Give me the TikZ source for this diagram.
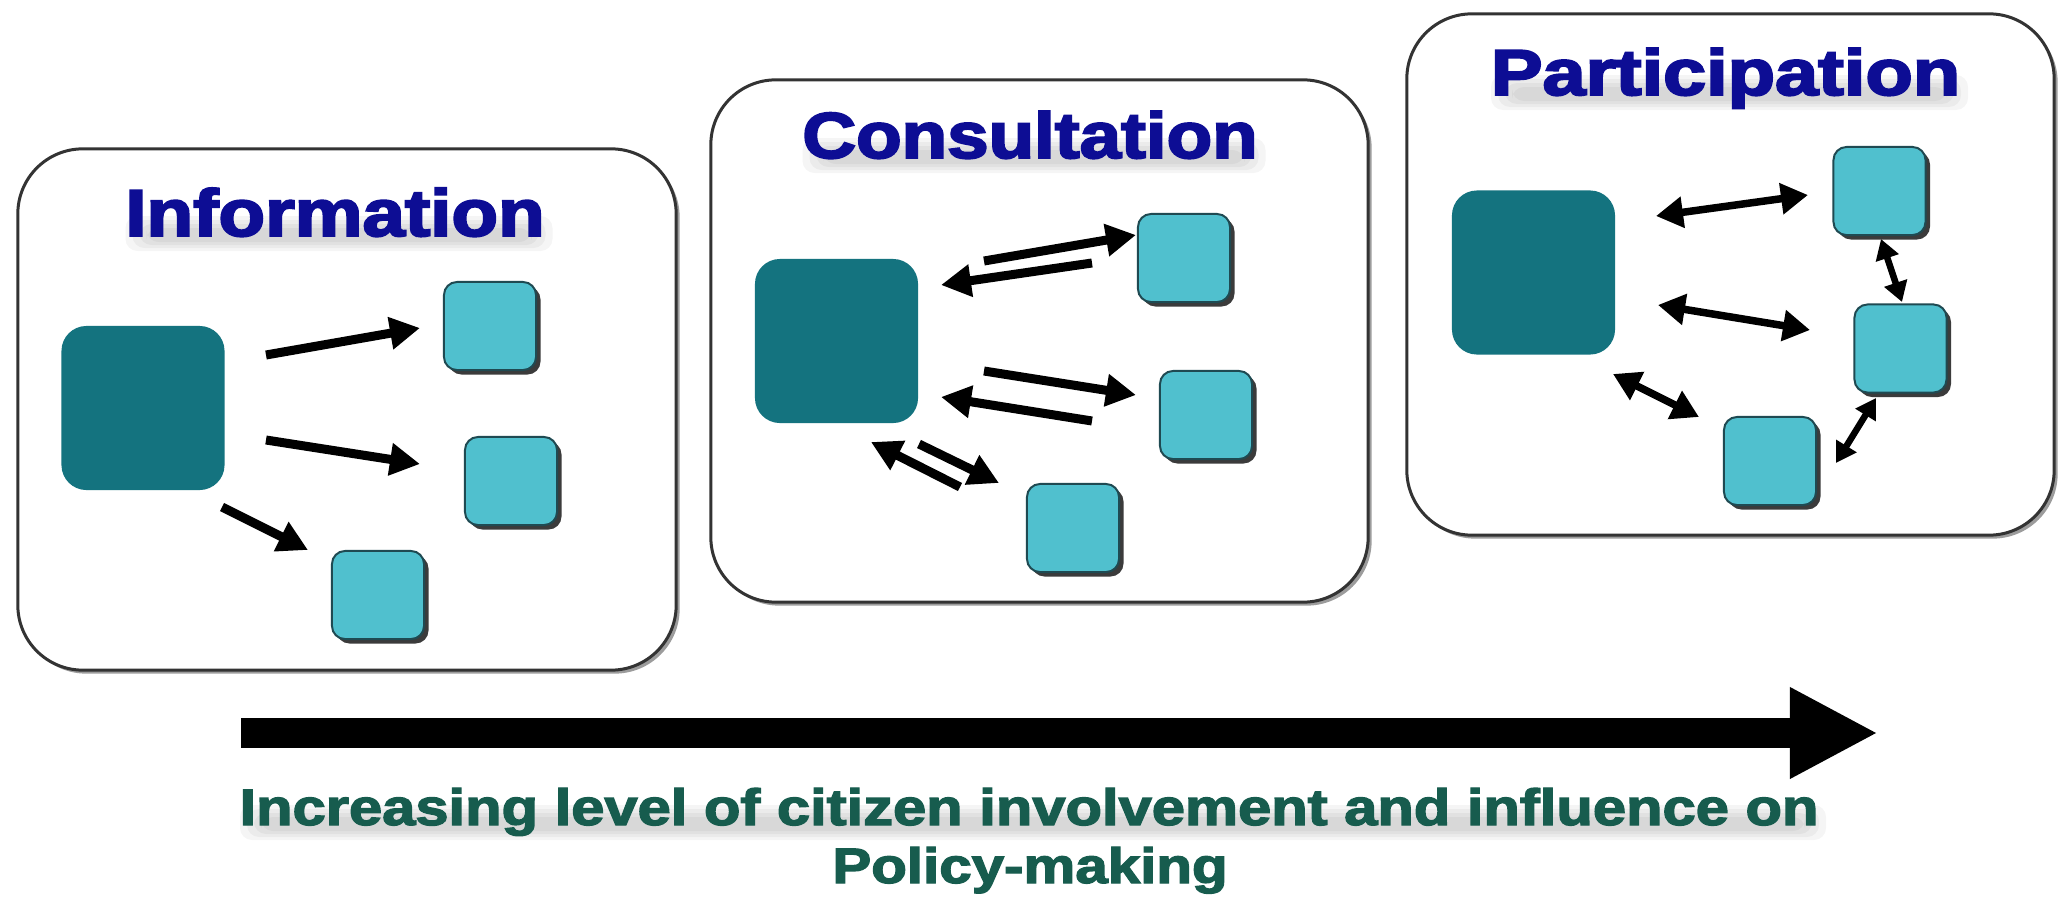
\documentclass[tikz,border=0pt]{standalone}
\usepackage{fontspec}
\setmainfont{Liberation Sans}
\newfontfamily\heavyfont[FakeBold=3]{Liberation Sans Bold}
\newfontfamily\capfont[FakeBold=2.5]{Liberation Sans Bold}
\usetikzlibrary{arrows.meta,calc,shadows}
\definecolor{darkteal}{HTML}{14737F}
\definecolor{lightcyan}{HTML}{50C0CE}
\definecolor{sqedge}{HTML}{1F4A52}
\definecolor{titleblue}{HTML}{0D0D94}
\definecolor{captiongreen}{HTML}{175C4E}
\definecolor{boxedge}{HTML}{333333}
\newcommand\softShadowBand[2]{%
  \foreach \k in {0,1,2,3}{
    \fill[black, opacity=0.04, rounded corners=0.12cm]
      ($(#1)+(-#2/2+\k*7, -20+\k*4)$) rectangle ($(#1)+(#2/2-\k*7+8, 15-\k*3)$);
  }}
\begin{document}
\begin{tikzpicture}[x=0.01cm,y=-0.01cm,
  panel/.style={draw=boxedge, line width=0.03cm, fill=white, rounded corners=0.65cm,
    drop shadow={shadow xshift=0.035cm, shadow yshift=-0.035cm, opacity=0.55, fill=black!70}},
  bigsq/.style={fill=darkteal, rounded corners=0.25cm, minimum width=1.63cm, minimum height=1.64cm, inner sep=0},
  smallsq/.style={draw=sqedge, line width=0.02cm, fill=lightcyan, rounded corners=0.13cm,
    minimum width=0.92cm, minimum height=0.88cm, inner sep=0,
    drop shadow={shadow xshift=0.045cm, shadow yshift=-0.045cm, opacity=0.9, fill=black!85}},
  arr/.style={line width=0.09cm, -{Triangle[length=0.3cm,width=0.31cm]}},
  darr/.style={line width=0.075cm, {Triangle[length=0.27cm,width=0.3cm]}-{Triangle[length=0.27cm,width=0.3cm]}},
  sdarr/.style={line width=0.065cm, {Triangle[length=0.2cm,width=0.23cm]}-{Triangle[length=0.2cm,width=0.23cm]}},
  ttl/.style={anchor=base, inner sep=0, font=\heavyfont},
  captxt/.style={anchor=base, inner sep=0, font=\capfont, text=captiongreen}
]
\fill[white] (0,0) rectangle (2062,897);
\useasboundingbox (0,0) rectangle (2062,897);

% panels
\node[panel, minimum width=6.58cm, minimum height=5.21cm] (p1) at (347,409.5) {};
\node[panel, minimum width=6.57cm, minimum height=5.22cm] (p2) at (1039.5,341) {};
\node[panel, minimum width=6.47cm, minimum height=5.21cm] (p3) at (1730.5,274.5) {};

% text baselines
\coordinate (c1) at (335,236);
\coordinate (c2) at (1030,158);
\coordinate (c3) at (1725.5,95);
\coordinate (c4) at (1029,825);
\coordinate (c5) at (1030,883);

% soft shadows under the texts
\softShadowBand{c1}{419}
\softShadowBand{c2}{455}
\softShadowBand{c3}{469}
\softShadowBand{c4}{1578}

% titles
\node[ttl, text=titleblue] (t1) at (c1) {\resizebox{4.19cm}{0.48cm}{Information}};
\node[ttl, text=titleblue] (t2) at (c2) {\resizebox{4.55cm}{0.47cm}{Consultation}};
\node[ttl, text=titleblue] (t3) at (c3) {\resizebox{4.69cm}{0.47cm}{Participation}};

% panel 1: Information
\node[bigsq] (d1) at (143,408) {};
\node[smallsq] (s11) at (490,326) {};
\node[smallsq] (s12) at (511,481) {};
\node[smallsq] (s13) at (378,595) {};
\draw[arr] ($(d1)+(123,-53)$) -- ($(s11)+(-70,2)$);
\draw[arr] ($(d1)+(123,32)$) -- ($(s12)+(-91,-17)$);
\draw[arr] ($(d1)+(79,99)$) -- ($(s13)+(-70,-45)$);

% panel 2: Consultation
\node[bigsq] (d2) at (836.5,341) {};
\node[smallsq] (s21) at (1184,258) {};
\node[smallsq] (s22) at (1206,415) {};
\node[smallsq] (s23) at (1073,528) {};
\draw[arr] ($(d2)+(147.5,-80)$) -- ($(s21)+(-48,-23)$);
\draw[arr] ($(s21)+(-92,5)$) -- ($(d2)+(104.5,-56)$);
\draw[arr] ($(d2)+(147.5,30)$) -- ($(s22)+(-70,-20)$);
\draw[arr] ($(s22)+(-114,6)$) -- ($(d2)+(104.5,56)$);
\draw[arr] ($(d2)+(82.5,103)$) -- ($(s23)+(-74,-45)$);
\draw[arr] ($(s23)+(-113,-41)$) -- ($(d2)+(34.5,101)$);

% panel 3: Participation
\node[bigsq] (d3) at (1533.5,272.5) {};
\node[smallsq] (s31) at (1879.5,191) {};
\node[smallsq] (s32) at (1900.5,348.5) {};
\node[smallsq] (s33) at (1770,461) {};
\draw[darr] ($(d3)+(122.5,-56.5)$) -- ($(s31)+(-71.5,4)$);
\draw[darr] ($(d3)+(124.5,32.5)$) -- ($(s32)+(-90.5,-18.5)$);
\draw[darr] ($(d3)+(79.5,101.5)$) -- ($(s33)+(-71,-44)$);
\draw[sdarr] ($(s31)+(1.5,48)$) -- ($(s32)+(1.5,-46.5)$);
\draw[sdarr] ($(s32)+(-24.5,49.5)$) -- ($(s33)+(66,2)$);

% big arrow
\coordinate (bigS) at (241,733);
\coordinate (bigE) at (1878,733);
\draw[line width=0.3cm, -{Triangle[length=0.88cm,width=0.85cm]}] (bigS) -- (bigE);

% caption
\node[captxt] (cap1) at (c4) {\resizebox{15.78cm}{0.37cm}{Increasing level of citizen involvement and influence on}};
\node[captxt] (cap2) at (c5) {\resizebox{3.95cm}{0.36cm}{Policy-making}};
\end{tikzpicture}
\end{document}
